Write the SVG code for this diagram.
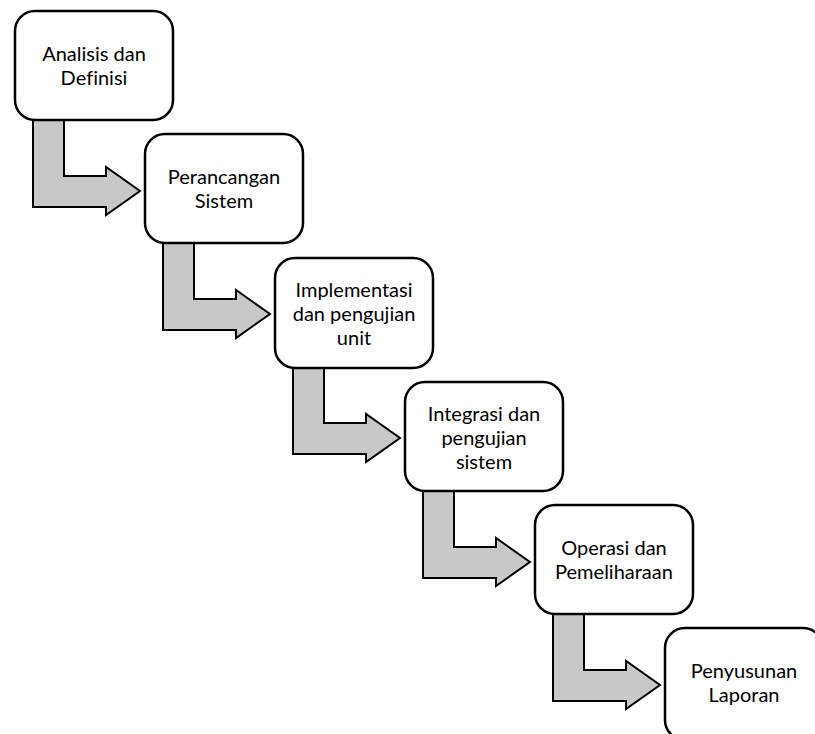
<svg xmlns="http://www.w3.org/2000/svg" width="815" height="734" viewBox="0 0 815 734">
<style>
.box{fill:#fff;stroke:#000;stroke-width:2.5}
.arr{fill:#c8c8c8;stroke:#000;stroke-width:2;stroke-linejoin:miter}
.t{font-family:Lato,"Open Sans","Liberation Sans",sans-serif;font-size:20px;font-variant-ligatures:none;fill:#000;text-anchor:middle}
</style>
<defs>
<path id="a" d="M18,105 H49 V165 H91 V156 L125,180 L91,204 V196 H18 Z"/>
</defs>
<rect width="815" height="734" fill="#fff"/>
<g id="connectors">
<use href="#a" class="arr" transform="translate(15,11)"/>
<use href="#a" class="arr" transform="translate(145,134)"/>
<use href="#a" class="arr" transform="translate(275,258)"/>
<use href="#a" class="arr" transform="translate(405,382)"/>
<use href="#a" class="arr" transform="translate(535,505)"/>
</g>
<g id="n1"><rect class="box" x="15" y="11" width="158" height="109" rx="20"/>
<text class="t"><tspan x="94" y="61">Analisis dan</tspan><tspan x="94" y="85">Definisi</tspan></text></g>
<g id="n2"><rect class="box" x="145" y="134" width="158" height="109" rx="20"/>
<text class="t"><tspan x="224" y="184">Perancangan</tspan><tspan x="224" y="208">Sistem</tspan></text></g>
<g id="n3"><rect class="box" x="275" y="258" width="158" height="110" rx="20"/>
<text class="t"><tspan x="354" y="297">Implementasi</tspan><tspan x="354" y="321">dan pengujian</tspan><tspan x="354" y="345">unit</tspan></text></g>
<g id="n4"><rect class="box" x="405" y="382" width="158" height="109" rx="20"/>
<text class="t"><tspan x="484" y="421">Integrasi dan</tspan><tspan x="484" y="445">pengujian</tspan><tspan x="484" y="469">sistem</tspan></text></g>
<g id="n5"><rect class="box" x="535" y="505" width="158" height="109" rx="20"/>
<text class="t"><tspan x="614" y="555">Operasi dan</tspan><tspan x="614" y="579">Pemeliharaan</tspan></text></g>
<g id="n6"><rect class="box" x="665" y="628" width="158" height="112" rx="20"/>
<text class="t"><tspan x="744" y="678">Penyusunan</tspan><tspan x="744" y="702">Laporan</tspan></text></g>
</svg>
